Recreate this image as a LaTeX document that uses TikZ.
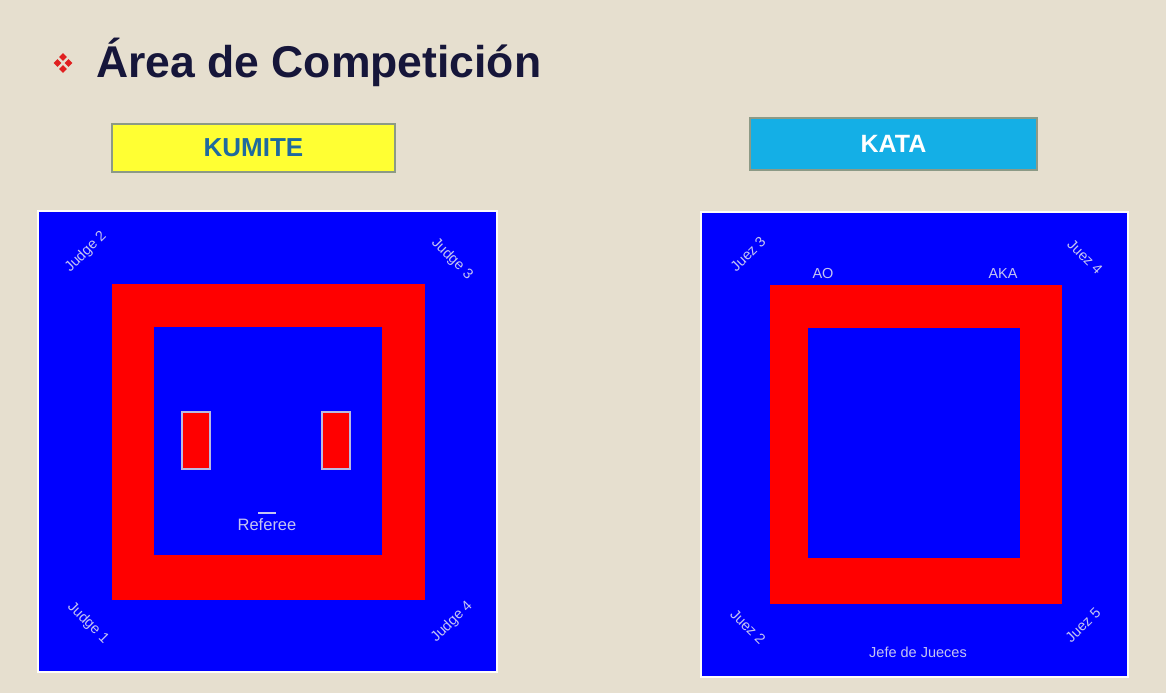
\documentclass[tikz,border=0pt]{standalone}
\usepackage{fontspec}
\setmainfont{Liberation Sans}
\usetikzlibrary{shapes.geometric}
\definecolor{bg}{HTML}{E6DFCF}
\definecolor{matblue}{HTML}{0000FF}
\definecolor{matred}{HTML}{FF0000}
\definecolor{lbl}{HTML}{C4C4F2}
\definecolor{navy}{HTML}{16163A}
\definecolor{kumiteblue}{HTML}{1F6A9E}
\definecolor{yellowbox}{HTML}{FFFF33}
\definecolor{katabox}{HTML}{14AFE6}
\definecolor{boxedge}{HTML}{8C9A86}
\definecolor{bullet}{HTML}{E02020}
\tikzset{
  lab/.style={text=lbl, inner sep=0pt, font=\fontsize{14.5}{16}\selectfont},
  mat/.style={fill=matblue, draw=white!92!bg, line width=1.2pt},
  band/.style={fill=matred},
  inner/.style={fill=matblue},
  pad/.style={fill=matred, draw=lbl!85!gray, line width=1.2pt},
  headbox/.style={draw=boxedge, line width=1.5pt, minimum height=48pt, inner sep=0pt, font=\bfseries\fontsize{26}{28}\selectfont},
  dia/.style={diamond, fill=bullet, inner sep=0pt, minimum size=8pt}
}
\begin{document}
\begin{tikzpicture}[x=1pt,y=-1pt]
\useasboundingbox (0,0) rectangle (1166,693);
\fill[bg] (0,0) rectangle (1166,693);
% title
\node[dia] (b1) at (63,57) {};
\node[dia] (b2) at (57.5,63) {};
\node[dia] (b3) at (68.5,63) {};
\node[dia] (b4) at (63,69) {};
\node[anchor=west, text=navy, font=\bfseries\fontsize{44.5}{48}\selectfont, inner sep=0pt] (title) at (96,62) {Área de Competición};
% header boxes
\node[headbox, fill=yellowbox, text=kumiteblue, minimum width=283pt] (kumite) at (253.5,148) {KUMITE};
\node[headbox, fill=katabox, text=white, minimum width=287pt, minimum height=52pt, font=\bfseries\fontsize{25}{27}\selectfont] (kata) at (893.5,144) {KATA};
% kumite mat
\filldraw[mat] (38,211) rectangle (497,672);
\fill[band] (112,284) rectangle (425,600);
\fill[inner] (154,327) rectangle (382,555);
\filldraw[pad] (182,412) rectangle (210,469);
\filldraw[pad] (322,412) rectangle (350,469);
\draw[lbl, line width=1.5pt] (258,513) -- (276,513);
\node[lab, font=\fontsize{16.5}{18}\selectfont] (ref) at (267,525) {Referee};
\node[lab, rotate=45] (j2) at (86,252) {Judge 2};
\node[lab, rotate=-45] (j3) at (452,259) {Judge 3};
\node[lab, rotate=-45] (j1) at (88,623) {Judge 1};
\node[lab, rotate=45] (j4) at (452,622) {Judge 4};
% kata mat
\filldraw[mat] (701,212) rectangle (1128,677);
\fill[band] (770,285) rectangle (1062,604);
\fill[inner] (808,328) rectangle (1020,558);
\node[lab] (ao) at (823,274) {AO};
\node[lab] (aka) at (1003,274) {AKA};
\node[lab, rotate=45] (z3) at (748,254) {Juez 3};
\node[lab, rotate=-45] (z4) at (1085,257) {Juez 4};
\node[lab, rotate=-45] (z2) at (748,627) {Juez 2};
\node[lab, rotate=45] (z5) at (1083,625) {Juez 5};
\node[lab] (jefe) at (918,652) {Jefe de Jueces};
\end{tikzpicture}
\end{document}
